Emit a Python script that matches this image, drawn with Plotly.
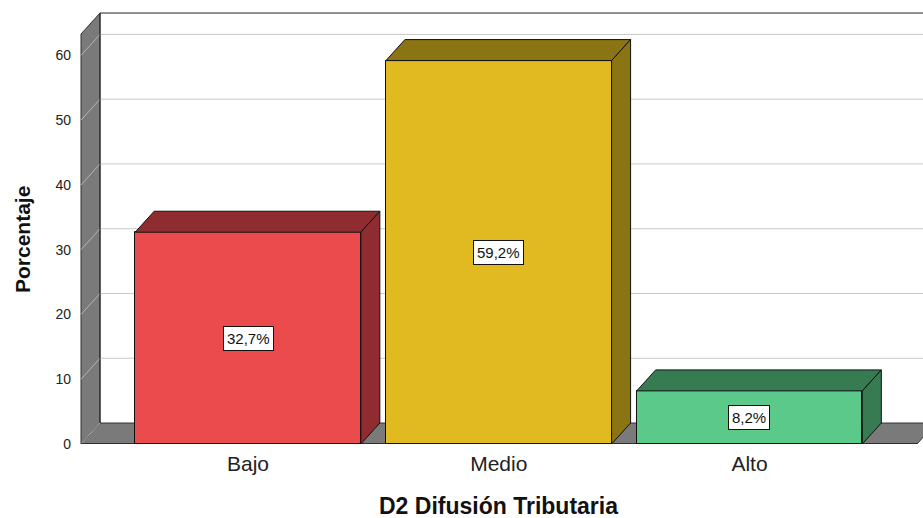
import plotly.graph_objects as go

categories = ["Bajo", "Medio", "Alto"]
values = [32.7, 59.2, 8.2]
value_labels = ["32,7%", "59,2%", "8,2%"]
front_colors = ["#EC4B4D", "#E0BA20", "#5BC98A"]
dark_colors = ["#8F2C2F", "#8B7413", "#367B52"]
y_ticks = [0, 10, 20, 30, 40, 50, 60]

FONT = "Liberation Sans, Arial, sans-serif"
BAR_W = 0.90
DX = 0.0758   # depth offset (x units)
DY = 3.24     # depth offset (y units)
X_LEFT = -0.666
X_RIGHT_FLOOR = 2.668
WALL_TOP = 63.3
X_RANGE = [X_LEFT - 0.004, 2.692]
Y_RANGE = [0, 66.7]

fig = go.Figure()

shapes = []
# floor
shapes.append(dict(type="path", xref="x", yref="y", layer="below",
                   path=f"M{X_LEFT},0 L{X_RIGHT_FLOOR},0 L{X_RIGHT_FLOOR+DX},{DY} L{X_LEFT+DX},{DY} Z",
                   fillcolor="#7A7A7A", line=dict(color="#333333", width=1)))
# left wall
shapes.append(dict(type="path", xref="x", yref="y", layer="below",
                   path=f"M{X_LEFT},0 L{X_LEFT},{WALL_TOP} L{X_LEFT+DX},{WALL_TOP+DY} L{X_LEFT+DX},{DY} Z",
                   fillcolor="#7A7A7A", line=dict(color="#333333", width=1)))
# gridlines on back wall and diagonals on left wall
for t in y_ticks[1:]:
    shapes.append(dict(type="line", xref="x", yref="y", layer="below",
                       x0=X_LEFT + DX, x1=X_RANGE[1] + 0.1, y0=t + DY, y1=t + DY,
                       line=dict(color="#C8C8C8", width=1)))
for t in y_ticks:
    shapes.append(dict(type="line", xref="x", yref="y", layer="below",
                       x0=X_LEFT, x1=X_LEFT + DX, y0=t, y1=t + DY,
                       line=dict(color="#B4B4B4", width=1)))
# back wall top border and left edge
shapes.append(dict(type="line", xref="x", yref="y", layer="below",
                   x0=X_LEFT + DX, x1=X_RANGE[1] + 0.1, y0=WALL_TOP + DY, y1=WALL_TOP + DY,
                   line=dict(color="#222222", width=1)))
shapes.append(dict(type="line", xref="x", yref="y", layer="below",
                   x0=X_LEFT + DX, x1=X_LEFT + DX, y0=DY, y1=WALL_TOP + DY,
                   line=dict(color="#222222", width=1)))
# front floor edge
shapes.append(dict(type="line", xref="x", yref="y", layer="below",
                   x0=X_LEFT, x1=X_RIGHT_FLOOR, y0=0, y1=0,
                   line=dict(color="#222222", width=1.5)))

# front faces
fig.add_trace(go.Bar(x=list(range(len(categories))), y=values, width=BAR_W,
                     marker=dict(color=front_colors, line=dict(color="#111111", width=1)),
                     hoverinfo="skip", showlegend=False))

# top and side faces
for i, (v, dc) in enumerate(zip(values, dark_colors)):
    x0 = i - BAR_W / 2
    x1 = i + BAR_W / 2
    fig.add_trace(go.Scatter(x=[x0, x1, x1 + DX, x0 + DX, x0], y=[v, v, v + DY, v + DY, v],
                             mode="lines", fill="toself", fillcolor=dc,
                             line=dict(color="#111111", width=1), hoverinfo="skip", showlegend=False))
    fig.add_trace(go.Scatter(x=[x1, x1 + DX, x1 + DX, x1, x1], y=[0, DY, v + DY, v, 0],
                             mode="lines", fill="toself", fillcolor=dc,
                             line=dict(color="#111111", width=1), hoverinfo="skip", showlegend=False))

annotations = []
for i, (v, lab) in enumerate(zip(values, value_labels)):
    annotations.append(dict(x=i, y=v / 2, xref="x", yref="y", text=lab, showarrow=False,
                            font=dict(family=FONT, size=15, color="#111111"),
                            bgcolor="white", bordercolor="#111111", borderwidth=1, borderpad=3))
# axis titles
annotations.append(dict(x=0.4959, y=-0.1435, xref="paper", yref="paper", showarrow=False,
                        text="<b>D2 Difusión Tributaria</b>", xanchor="center", yanchor="middle",
                        font=dict(family=FONT, size=23, color="#111111")))
annotations.append(dict(x=-0.0688, y=0.4722, xref="paper", yref="paper", showarrow=False,
                        text="<b>Porcentaje</b>", textangle=-90, xanchor="center", yanchor="middle",
                        font=dict(family=FONT, size=21, color="#111111")))

fig.update_layout(
    width=923, height=518,
    margin=dict(l=80, r=0, t=12, b=74),
    plot_bgcolor="white", paper_bgcolor="white",
    shapes=shapes, annotations=annotations,
    bargap=0,
    xaxis=dict(range=X_RANGE, tickvals=list(range(len(categories))), ticktext=categories,
               showgrid=False, zeroline=False, showline=False, ticks="", automargin=False,
               tickfont=dict(family=FONT, size=21, color="#222222"), ticklabelstandoff=5),
    yaxis=dict(range=Y_RANGE, tickvals=y_ticks, showgrid=False, zeroline=False, showline=False,
               ticks="", automargin=False,
               tickfont=dict(family=FONT, size=14, color="#222222"), ticklabelstandoff=8),
)

fig.write_html("out.html", config={"displayModeBar": False},
               post_script="document.body.style.margin='0';document.body.style.overflow='hidden';")
